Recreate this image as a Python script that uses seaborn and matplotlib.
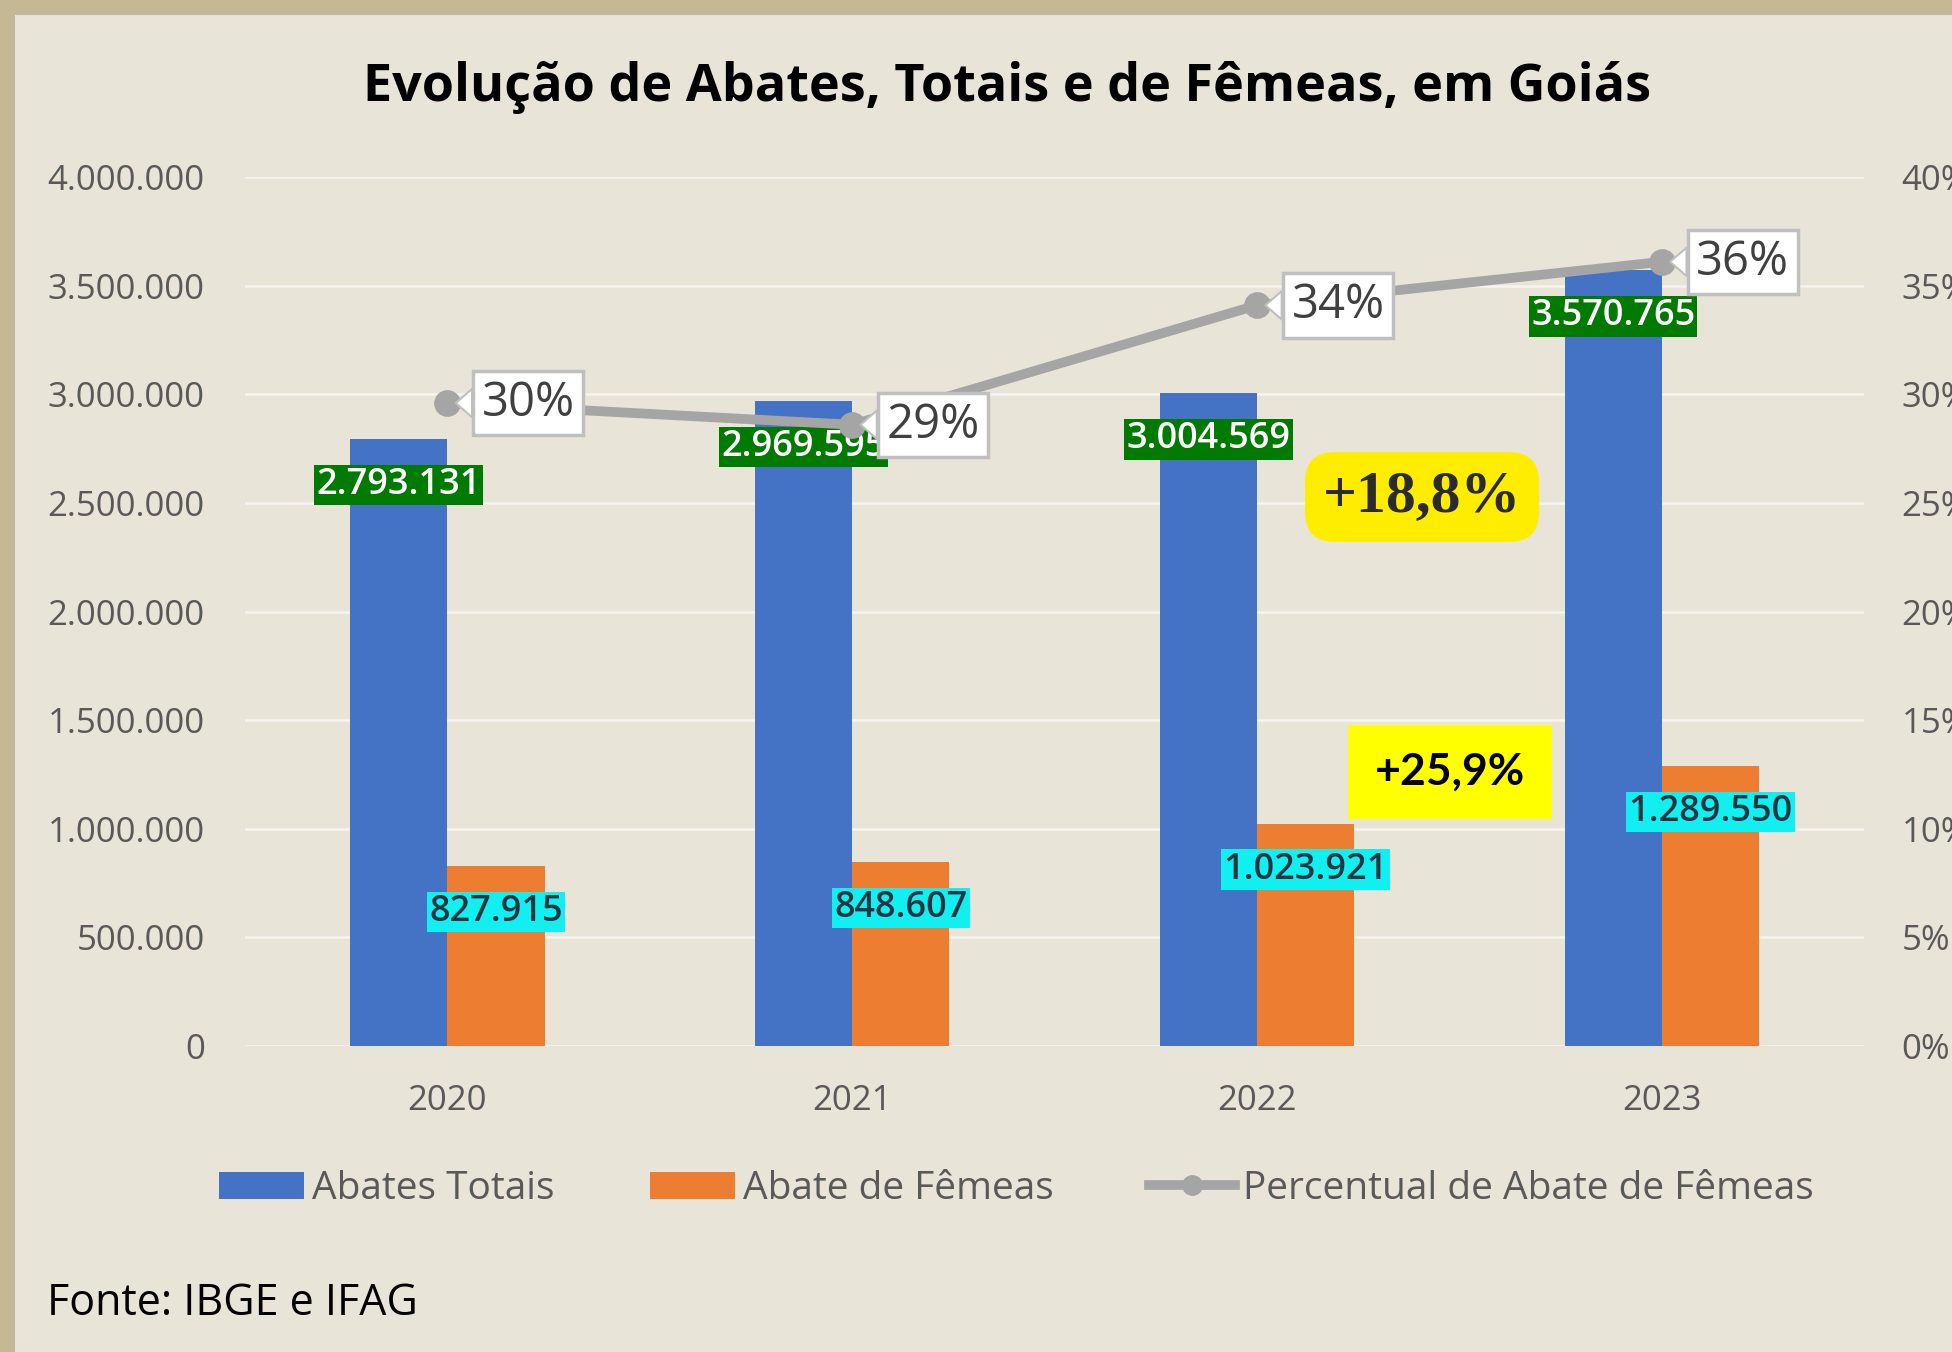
import matplotlib
matplotlib.use("Agg")
import matplotlib.pyplot as plt
from matplotlib.patches import Rectangle, Patch
from matplotlib.lines import Line2D
import seaborn as sns
import pandas as pd

# ---- data ----
anos = ["2020", "2021", "2022", "2023"]
abates_totais = [2793131, 2969595, 3004569, 3570765]
abate_femeas = [827915, 848607, 1023921, 1289550]
percentual = [29.6, 28.6, 34.1, 36.1]
serie_nomes = ["Abates Totais", "Abate de Fêmeas", "Percentual de Abate de Fêmeas"]
yticks_left = [0, 500000, 1000000, 1500000, 2000000, 2500000, 3000000, 3500000, 4000000]
yticks_right = [0, 5, 10, 15, 20, 25, 30, 35, 40]
titulo = "Evolução de Abates, Totais e de Fêmeas, em Goiás"
fonte = "Fonte: IBGE e IFAG"
destaque_totais = "+18,8%"
destaque_femeas = "+25,9%"

FONT = "Open Sans"
plt.rcParams["font.family"] = [FONT, "DejaVu Sans"]

def fmt(v):
    return f"{v:,}".replace(",", ".")

BG = "#E8E4D8"
BORDER = "#C5B894"
TICK = "#595959"

fig = plt.figure(figsize=(19.52, 13.52), dpi=100, facecolor=BORDER)
fig.add_artist(Rectangle((15 / 1952, 0), 1, 1 - 15 / 1352, transform=fig.transFigure,
                         facecolor=BG, edgecolor="none", zorder=-10))

ax = fig.add_axes([0.1255, 0.2263, 0.8295, 0.6427])
ax.set_facecolor("none")

df = pd.DataFrame({
    "Ano": anos * 2,
    "Série": [serie_nomes[0]] * len(anos) + [serie_nomes[1]] * len(anos),
    "Valor": abates_totais + abate_femeas,
})
sns.barplot(data=df, x="Ano", y="Valor", hue="Série", palette=["#4472C4", "#ED7D31"],
            width=0.48, gap=0, saturation=1, linewidth=0, legend=False, ax=ax, zorder=2)

ax.set_ylim(0, 4000000)
ax.set_xlim(-0.5, 3.5)
ax.set_yticks(yticks_left)
ax.set_yticklabels([fmt(v) for v in yticks_left])
ax.set_xlabel("")
ax.set_ylabel("")
ax.grid(axis="y", color="#F6F4EF", linewidth=1.8, zorder=0)
ax.set_axisbelow(True)
for s in ax.spines.values():
    s.set_visible(False)
ax.tick_params(axis="y", length=0, pad=29, labelsize=25, labelcolor=TICK)
ax.tick_params(axis="x", length=0, pad=27, labelsize=25, labelcolor=TICK)

# value labels on bars
for i, v in enumerate(abates_totais):
    ax.annotate(fmt(v), xy=(i - 0.12, v), xytext=(0, -46), textcoords="offset pixels",
                ha="center", va="center", fontsize=26, fontweight="semibold", color="white",
                bbox=dict(boxstyle="square,pad=0.06", fc="#007A00", ec="none"), zorder=5)
for i, v in enumerate(abate_femeas):
    ax.annotate(fmt(v), xy=(i + 0.12, v), xytext=(0, -46), textcoords="offset pixels",
                ha="center", va="center", fontsize=26, fontweight="semibold", color="#1F3642",
                bbox=dict(boxstyle="square,pad=0.06", fc="#11EFF0", ec="none"), zorder=5)

# percentage line
ax2 = ax.twinx()
ax2.set_position(ax.get_position())
sns.pointplot(x=anos, y=percentual, ax=ax2, color="#A5A5A5", markers="o",
              markersize=14, linewidth=7, errorbar=None)
ax2.set_ylim(0, 40)
ax2.set_xlim(-0.5, 3.5)
ax2.set_yticks(yticks_right)
ax2.set_yticklabels([f"{v}%" for v in yticks_right])
ax2.set_ylabel("")
for s in ax2.spines.values():
    s.set_visible(False)
ax2.tick_params(axis="y", length=0, pad=27, labelsize=25, labelcolor=TICK)
ax2.grid(False)

for i, p in enumerate(percentual):
    ax2.annotate(f"{round(p)}%", xy=(i, p), xytext=(81, 0), textcoords="offset pixels",
                 ha="center", va="center", fontsize=34, color="#404040",
                 bbox=dict(boxstyle="square,pad=0.18", fc="white", ec="#BFBFBF", lw=2.5),
                 arrowprops=dict(arrowstyle="wedge,tail_width=0.6,shrink_factor=0.5",
                                 fc="white", ec="#BFBFBF", lw=1.5,
                                 shrinkA=0, shrinkB=6),
                 zorder=6)

# highlight boxes
fig.text(0.7285, 0.6324, destaque_totais, ha="center", va="center", fontsize=43,
         fontweight="bold", family=["Liberation Serif", "DejaVu Serif"], color="#2B2B2B",
         bbox=dict(boxstyle="round,pad=0.3,rounding_size=0.5", fc="#FFED00", ec="none"))
fig.text(0.7428, 0.4290, destaque_femeas, ha="center", va="center", fontsize=32,
         fontweight="bold", family=["Lato", "DejaVu Sans"], color="black",
         bbox=dict(boxstyle="square,pad=0.6", fc="#FFFF00", ec="none"))

# title
fig.text(0.516, 0.9356, titulo, ha="center", va="center", fontsize=37.5,
         fontweight="bold", color="black")

# legend
handles = [Patch(facecolor="#4472C4", edgecolor="none"),
           Patch(facecolor="#ED7D31", edgecolor="none"),
           Line2D([0], [0], color="#A5A5A5", lw=7, marker="o", markersize=14)]
fig.legend(handles, serie_nomes, loc="center", bbox_to_anchor=(0.5205, 0.1206), ncol=3,
           frameon=False, fontsize=28, handlelength=2.2, handleheight=0.7,
           handletextpad=0.2, columnspacing=2.45, labelcolor=TICK)

fig.text(47 / 1952, 1 - 1304 / 1352, fonte, ha="left", va="center", fontsize=31, color="black")

fig.savefig("out.png", dpi=100, facecolor=BORDER)
